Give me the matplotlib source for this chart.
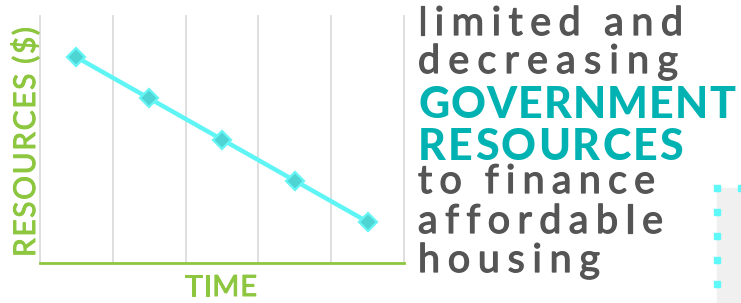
import matplotlib
matplotlib.use("Agg")
import matplotlib.pyplot as plt
import matplotlib.patheffects as pe
from matplotlib.patches import Rectangle

# data
time_pos = [0.5, 1.5, 2.5, 3.5, 4.5]
resources = [5, 4, 3, 2, 1]
grid_x = [0, 1, 2, 3, 4, 5]

# text block on the right
txt_lines = ["limited and", "decreasing", "GOVERNMENT", "RESOURCES",
             "to finance", "affordable", "housing"]
txt_bold = [False, False, True, True, False, False, False]

W, H = 741, 303
GREEN = "#8dc63f"
GREY = "#555555"
TEAL = "#00b2b2"

fig = plt.figure(figsize=(W / 100, H / 100), dpi=100)
ax = fig.add_axes([40 / W, 1 - 263 / H, 364 / W, 247 / H])
ax.set_xlim(0, 5)
ax.set_ylim(0, 6)

for gx in grid_x:
    ax.axvline(gx, color="#dcdcdc", lw=1.3, zorder=0, clip_on=False)

ax.plot(time_pos, resources, color="#5ff5f5", lw=3.2, marker="D", ms=9,
        mfc="#4fd4d4", mec="#66f5f5", mew=1.6, zorder=3)

for k, s in ax.spines.items():
    s.set_visible(k == "bottom")
ax.spines["bottom"].set_color(GREEN)
ax.spines["bottom"].set_linewidth(2)
ax.set_xticks([])
ax.set_yticks([])

renderer = fig.canvas.get_renderer()


def char_widths(text, size, weight):
    ws = []
    for ch in text:
        if ch == " ":
            ws.append(0.22 * size * 100 / 72)
            continue
        t = fig.text(0, 0, ch, fontsize=size, family="Lato", fontweight=weight)
        ws.append(t.get_window_extent(renderer).width)
        t.remove()
    return ws


def tracked(text, x0, base, width, size, color, weight, thick=0.0):
    ws = char_widths(text, size, weight)
    gap = (width - sum(ws)) / (len(text) - 1)
    fx = [pe.withStroke(linewidth=thick, foreground=color)] if thick else None
    x = x0
    for ch, w in zip(text, ws):
        if ch != " ":
            fig.text((x + w / 2) / W, 1 - base / H, ch, fontsize=size,
                     family="Lato", fontweight=weight, color=color,
                     ha="center", va="baseline", path_effects=fx)
        x += w + gap


def tracked_up(text, base_x, y_bottom, length, size, color, weight, thick=0.0):
    # same as tracked, but rotated 90 degrees, reading bottom to top
    ws = char_widths(text, size, weight)
    gap = (length - sum(ws)) / (len(text) - 1)
    fx = [pe.withStroke(linewidth=thick, foreground=color)] if thick else None
    y = y_bottom
    for ch, w in zip(text, ws):
        if ch != " ":
            fig.text(base_x / W, 1 - (y - w / 2) / H, ch, fontsize=size,
                     family="Lato", fontweight=weight, color=color,
                     rotation=90, rotation_mode="anchor", ha="center",
                     va="baseline", path_effects=fx)
        y -= w + gap


tracked_up("RESOURCES ($)", 35, 257, 230, 21.5, GREEN, "normal", 0.7)
tracked("TIME", 185, 296, 72, 21, GREEN, "normal", 0.7)

# letter spaced text, each line fitted to the width seen in the picture
base_px = [35, 73, 118, 160, 193, 233, 272]
width_px = [265, 260, 317, 265, 237, 245, 182]

for s, b, bl, wd in zip(txt_lines, txt_bold, base_px, width_px):
    if b:
        tracked(s, 418, bl, wd, 31, TEAL, "black")
    else:
        tracked(s, 418, bl, wd, 28.5, GREY, "normal", 0.9)

# decoration at the lower right corner
fig.patches.append(Rectangle((717, 0), 24, H - 188, transform=None,
                             color="#f0f0f0", zorder=0))
for yy in [188, 212, 236, 260, 284]:
    fig.patches.append(Rectangle((714, H - yy - 3), 6, 6, transform=None,
                                 color="#5ff8f8"))
fig.patches.append(Rectangle((738, H - 191), 3, 6, transform=None,
                             color="#5ff8f8"))

fig.savefig("out.png", dpi=100)
